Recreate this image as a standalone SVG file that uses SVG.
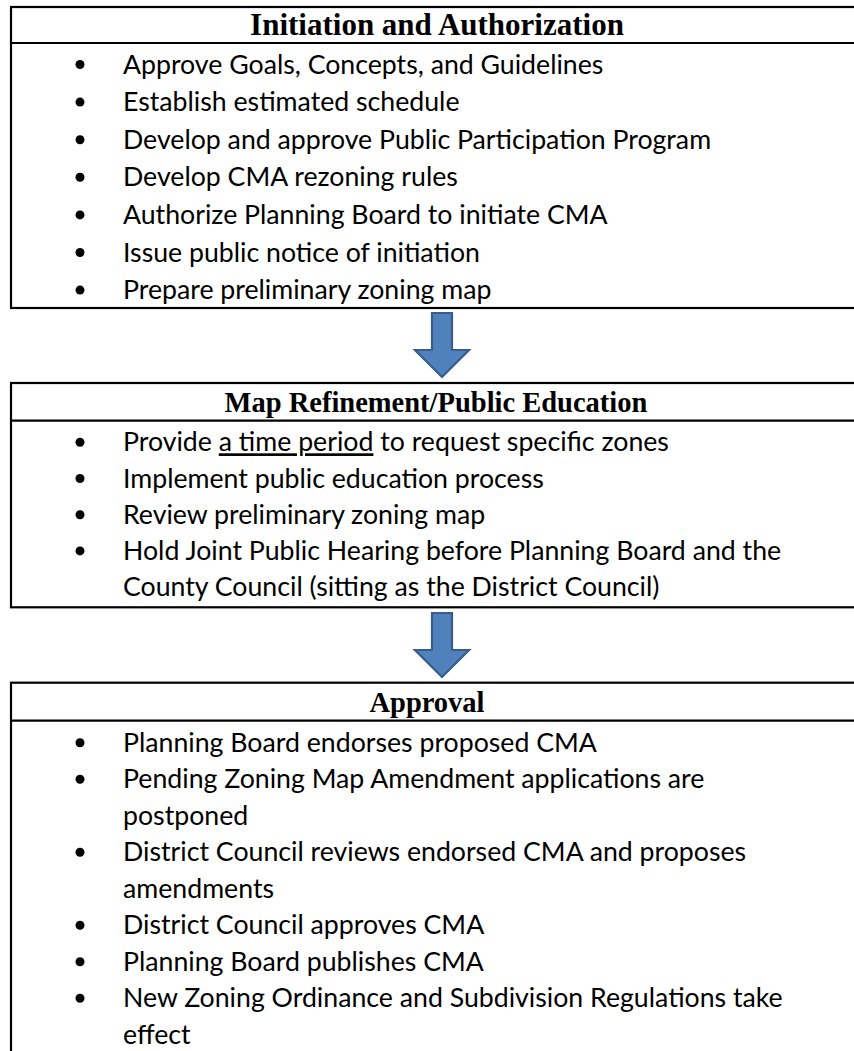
<svg xmlns="http://www.w3.org/2000/svg" width="854" height="1051" viewBox="0 0 854 1051">
<style>
.box{fill:none;stroke:#000;stroke-width:2.2}
.hd{font-family:"Liberation Serif","Times New Roman",serif;font-weight:bold;font-size:31px;fill:#000;text-anchor:middle}
.hs{font-size:28.5px}
.tx{font-family:Lato,"Liberation Sans",sans-serif;font-size:26.7px;fill:#000}
.bul{fill:#000}
.arr{fill:#4F81BD;stroke:#385D8A;stroke-width:2.2;stroke-linejoin:miter}
</style>
<rect width="854" height="1051" fill="#fff"/>
<g id="box1">
<rect class="box" x="11" y="7" width="860" height="301"/>
<line class="box" x1="11" y1="43" x2="860" y2="43"/>
<text class="hd" x="437" y="35">Initiation and Authorization</text>
<circle class="bul" cx="80" cy="64.5" r="4.5"/><text class="tx" x="123" y="73.5">Approve Goals, Concepts, and Guidelines</text>
<circle class="bul" cx="80" cy="102.1" r="4.5"/><text class="tx" x="123" y="111.1">Establish estimated schedule</text>
<circle class="bul" cx="80" cy="139.7" r="4.5"/><text class="tx" x="123" y="148.7">Develop and approve Public Participation Program</text>
<circle class="bul" cx="80" cy="177.3" r="4.5"/><text class="tx" x="123" y="186.3">Develop CMA rezoning rules</text>
<circle class="bul" cx="80" cy="214.9" r="4.5"/><text class="tx" x="123" y="223.9">Authorize Planning Board to initiate CMA</text>
<circle class="bul" cx="80" cy="252.5" r="4.5"/><text class="tx" x="123" y="261.5">Issue public notice of initiation</text>
<circle class="bul" cx="80" cy="290.1" r="4.5"/><text class="tx" x="123" y="299.1">Prepare preliminary zoning map</text>
</g>
<g id="box2">
<rect class="box" x="11" y="383" width="860" height="224.3"/>
<line class="box" x1="11" y1="420.7" x2="860" y2="420.7"/>
<text class="hd hs" x="436" y="412">Map Refinement/Public Education</text>
<circle class="bul" cx="80" cy="442.3" r="4.5"/><text class="tx" x="123" y="451.3">Provide <tspan text-decoration="underline">a time period</tspan> to request specific zones</text>
<circle class="bul" cx="80" cy="478.5" r="4.5"/><text class="tx" x="123" y="487.5">Implement public education process</text>
<circle class="bul" cx="80" cy="514.7" r="4.5"/><text class="tx" x="123" y="523.7">Review preliminary zoning map</text>
<circle class="bul" cx="80" cy="550.9" r="4.5"/><text class="tx" x="123" y="559.9">Hold Joint Public Hearing before Planning Board and the</text>
<text class="tx" x="123" y="596.1">County Council (sitting as the District Council)</text>
</g>
<g id="box3">
<rect class="box" x="11" y="682.7" width="860" height="400"/>
<line class="box" x1="11" y1="720.7" x2="860" y2="720.7"/>
<text class="hd hs" x="427" y="712">Approval</text>
<circle class="bul" cx="80" cy="742.7" r="4.5"/><text class="tx" x="123" y="751.7">Planning Board endorses proposed CMA</text>
<circle class="bul" cx="80" cy="779.2" r="4.5"/><text class="tx" x="123" y="788.2">Pending Zoning Map Amendment applications are</text>
<text class="tx" x="123" y="824.7">postponed</text>
<circle class="bul" cx="80" cy="852.2" r="4.5"/><text class="tx" x="123" y="861.2">District Council reviews endorsed CMA and proposes</text>
<text class="tx" x="123" y="897.7">amendments</text>
<circle class="bul" cx="80" cy="925.2" r="4.5"/><text class="tx" x="123" y="934.2">District Council approves CMA</text>
<circle class="bul" cx="80" cy="961.7" r="4.5"/><text class="tx" x="123" y="970.7">Planning Board publishes CMA</text>
<circle class="bul" cx="80" cy="998.2" r="4.5"/><text class="tx" x="123" y="1007.2">New Zoning Ordinance and Subdivision Regulations take</text>
<text class="tx" x="123" y="1043.7">effect</text>
</g>
<g id="connectors">
<path class="arr" d="M432 313 H452 V350 H469 L442 377 L415 350 H432 Z"/>
<path class="arr" d="M432 613 H452 V650 H469 L442 677 L415 650 H432 Z"/>
</g>
</svg>
